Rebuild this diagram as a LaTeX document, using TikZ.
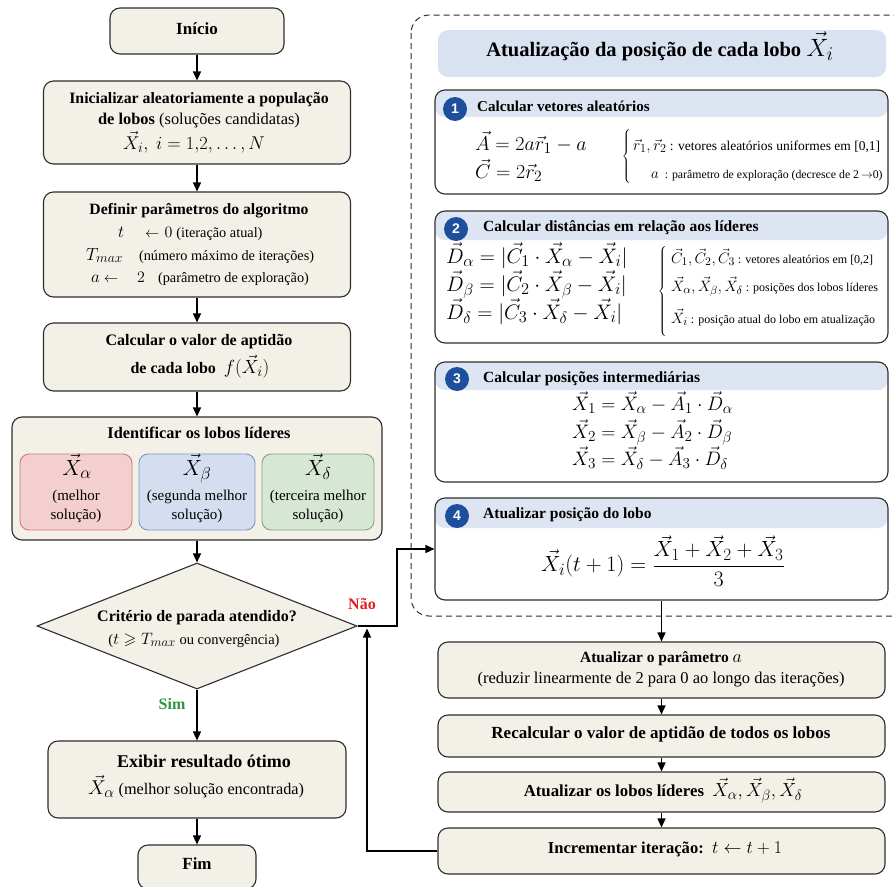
\RequirePackage{fix-cm}
\documentclass[tikz,border=0pt]{standalone}
\usepackage{amsmath,amssymb}
\usepackage{fontspec}
\setmainfont{Liberation Serif}
\newfontfamily\numfont{Liberation Sans}
\usetikzlibrary{shapes.geometric,arrows.meta}
\newcommand{\setfs}[2]{\fontsize{#1}{#2}\selectfont}
% slightly larger sub/superscripts in the formulas
\renewcommand{\defaultscriptratio}{.78}
\renewcommand{\defaultscriptscriptratio}{.6}

\definecolor{cream}{HTML}{F3F0E8}
\definecolor{edge}{HTML}{2E2E2E}
\definecolor{redfill}{HTML}{F4CFCF}
\definecolor{redline}{HTML}{C97C7C}
\definecolor{bluefill}{HTML}{D4DEF0}
\definecolor{blueline}{HTML}{7E98C6}
\definecolor{greenfill}{HTML}{D6E7D3}
\definecolor{greenline}{HTML}{7FA97F}
\definecolor{headbg}{HTML}{DDE5F2}
\definecolor{titlebg}{HTML}{D9E2F0}
\definecolor{numblue}{HTML}{1D4F9C}
\definecolor{nored}{HTML}{E0201E}
\definecolor{yesgreen}{HTML}{2E9440}

\begin{document}
\begin{tikzpicture}[x=1pt,y=-1pt,
  box/.style={draw=edge, fill=cream, rounded corners=10pt, line width=1.1pt, inner sep=0pt},
  sbox/.style={draw=edge, fill=white, rounded corners=10pt, line width=1.1pt, inner sep=0pt,
    minimum width=453pt,
    path picture={\fill[headbg] (path picture bounding box.north west)
      rectangle ([yshift=-#1]path picture bounding box.north east);}},
  sbox/.default=28pt,
  leaf/.style={rounded corners=9pt, line width=0.9pt, inner sep=0pt,
    minimum width=112pt, minimum height=76pt},
  lbl/.style={inner sep=0pt, text height=0.75em, text depth=0.1em},
  num/.style={circle, fill=numblue, text=white, inner sep=0pt, minimum size=24pt,
    font={\numfont\bfseries\setfs{14}{16}}},
  arr/.style={draw=black, line width=1.3pt, -{Triangle[length=9pt,width=8pt]}},
  frame/.style={draw=edge, line width=1pt, dash pattern=on 6pt off 4pt, rounded corners=18pt},
]
\fill[white] (0,0) rectangle (894,886);
\useasboundingbox (0,0) rectangle (894,886);

% ---------------- main flow (left column) ----------------
\node[box, minimum width=174pt, minimum height=46pt] (start) at (197,31) {};
\node[lbl, font=\bfseries\setfs{17}{20}] (startT) at (197,31) {Início};

\node[box, minimum width=307pt, minimum height=83pt] (init) at (197,122.5) {};
\node[lbl, font=\bfseries\setfs{15.8}{18}] (initA) at (199,100) {Inicializar aleatoriamente a população};
\node[lbl, font=\setfs{16.4}{19}] (initB) at (199,121) {\textbf{de lobos} (soluções candidatas)};
\node[lbl, font=\setfs{18.5}{21}] (initC) at (194,146) {$\vec{X}_{i},\ i = 1{,}2,\ldots,N$};

\node[box, minimum width=307pt, minimum height=105pt] (param) at (197,244.5) {};
\node[lbl, font=\bfseries\setfs{15.7}{18}] (paramT) at (199,211) {Definir parâmetros do algoritmo};
\node[lbl, font=\setfs{14.3}{17}, anchor=west] (paramA) at (118,234)
  {{\setfs{17}{20}$t$}\hspace{21pt}$\leftarrow$\hspace{5pt}{\setfs{16}{19}$0$}\hspace{4pt}(iteração atual)};
\node[lbl, font=\setfs{14.3}{17}, anchor=west] (paramB) at (86,257)
  {{\setfs{17.5}{20}$T_{max}$}\hspace{16pt}(número máximo de iterações)};
\node[lbl, font=\setfs{14.3}{17}, anchor=west] (paramC) at (91,279)
  {{\setfs{17}{20}$a$}\hspace{4pt}$\leftarrow$\hspace{19pt}{\setfs{16}{19}$2$}\hspace{13pt}(parâmetro de exploração)};

\node[box, minimum width=307pt, minimum height=68pt] (fit) at (197,357) {};
\node[lbl, font=\bfseries\setfs{16}{19}] (fitA) at (199,342) {Calcular o valor de aptidão};
\node[lbl, font=\bfseries\setfs{16}{19}] (fitB) at (200,370) {de cada lobo\ \ {\setfs{19}{22}$f(\vec{X}_i)$}};

\node[box, minimum width=370pt, minimum height=123pt] (lead) at (197,478.5) {};
\node[lbl, font=\bfseries\setfs{16.3}{19}] (leadT) at (199,435) {Identificar os lobos líderes};
\node[leaf, draw=redline, fill=redfill] (alpha) at (76,492) {};
\node[leaf, draw=blueline, fill=bluefill, minimum width=116pt] (beta) at (197,492) {};
\node[leaf, draw=greenline, fill=greenfill] (delta) at (318,492) {};
\node[lbl, font=\setfs{22}{25}] (alphaM) at (77,472) {$\vec{X}_{\alpha}$};
\node[lbl, font=\setfs{15}{18}] (alphaA) at (76,497) {(melhor};
\node[lbl, font=\setfs{15}{18}] (alphaB) at (76,516) {solução)};
\node[lbl, font=\setfs{22}{25}] (betaM) at (197,472) {$\vec{X}_{\beta}$};
\node[lbl, font=\setfs{15}{18}] (betaA) at (197,497) {(segunda melhor};
\node[lbl, font=\setfs{15}{18}] (betaB) at (197,516) {solução)};
\node[lbl, font=\setfs{22}{25}] (deltaM) at (318,472) {$\vec{X}_{\delta}$};
\node[lbl, font=\setfs{15}{18}] (deltaA) at (318,497) {(terceira melhor};
\node[lbl, font=\setfs{15}{18}] (deltaB) at (318,516) {solução)};

\node[diamond, draw=edge, fill=cream, line width=1.1pt, inner sep=0pt,
  minimum width=320pt, minimum height=126pt] (dec) at (197,626) {};
\node[lbl, font=\bfseries\setfs{16}{19}] (decA) at (197,618) {Critério de parada atendido?};
\node[lbl, font=\setfs{14.5}{17}] (decB) at (194,641) {({\setfs{16.5}{19}$t \geqslant T_{max}$} ou convergência)};

\node[lbl, font=\bfseries\setfs{16}{19}, text=yesgreen] (yes) at (172,706) {Sim};
\node[lbl, font=\bfseries\setfs{16}{19}, text=nored] (no) at (362,606) {Não};

\node[box, minimum width=298pt, minimum height=77pt] (res) at (197,779.5) {};
\node[lbl, font=\bfseries\setfs{18}{21}] (resA) at (204,764) {Exibir resultado ótimo};
\node[lbl, font=\setfs{16.2}{19}] (resB) at (196,791) {{\setfs{20}{23}$\vec{X}_{\alpha}$} (melhor solução encontrada)};

\node[box, minimum width=118pt, minimum height=44pt] (fin) at (197,867) {};
\node[lbl, font=\bfseries\setfs{17}{20}] (finT) at (197,866) {Fim};

% ---------------- position update (right column) ----------------
\draw[frame] (411,15) rectangle (915,616);

\node[fill=titlebg, rounded corners=10pt, minimum width=448pt, minimum height=47pt, inner sep=0pt] (title) at (662,53.5) {};
\node[lbl, font=\bfseries\setfs{20.5}{24}] (titleT) at (660,53) {Atualização da posição de cada lobo {\setfs{25}{28}$\vec{X}_i$}};

% step 1
\node[sbox=27pt, minimum height=104pt] (s1) at (661.5,142) {};
\node[num] (n1) at (455,109) {1};
\node[lbl, font=\bfseries\setfs{15.1}{18}, anchor=west] (s1T) at (477,108) {Calcular vetores aleatórios};
\node[lbl, font=\setfs{20}{23}, anchor=west] (s1A) at (475,147) {$\vec{A} = 2a\vec{r}_1 - a$};
\node[lbl, font=\setfs{20}{23}, anchor=west] (s1C) at (475,175) {$\vec{C} = 2\vec{r}_2$};
\node[inner sep=0pt] (br1) at (627,158) {$\left\{\rule[-27pt]{0pt}{54pt}\right.$};
\node[lbl, font=\setfs{13.5}{16}, anchor=west] (s1n1) at (633,147) {{\setfs{15.5}{18}$\vec{r}_1, \vec{r}_2$} : vetores aleatórios uniformes em [0,1]};
\node[lbl, font=\setfs{11.8}{14}, anchor=west] (s1n2) at (651,175) {{\setfs{15}{18}$a$}\ \ : parâmetro de exploração (decresce de 2\,$\rightarrow$0)};

% step 2
\node[sbox=29pt, minimum height=132pt] (s2) at (661.5,277) {};
\node[num] (n2) at (456,229) {2};
\node[lbl, font=\bfseries\setfs{15.5}{18}, anchor=west] (s2T) at (483,228) {Calcular distâncias em relação aos líderes};
\node[lbl, font=\setfs{21}{24}, anchor=west] (s2A) at (446,260) {$\vec{D}_{\alpha} = |\vec{C}_1\cdot\vec{X}_{\alpha} - \vec{X}_i|$};
\node[lbl, font=\setfs{21}{24}, anchor=west] (s2B) at (446,288) {$\vec{D}_{\beta} = |\vec{C}_2\cdot\vec{X}_{\beta} - \vec{X}_i|$};
\node[lbl, font=\setfs{21}{24}, anchor=west] (s2C) at (446,316) {$\vec{D}_{\delta} = |\vec{C}_3\cdot\vec{X}_{\delta} - \vec{X}_i|$};
\node[inner sep=0pt] (br2) at (663,292) {$\left\{\rule[-44pt]{0pt}{88pt}\right.$};
\node[lbl, font=\setfs{12}{14}, anchor=west] (s2n1) at (671,260) {{\setfs{15}{18}$\vec{C}_1, \vec{C}_2, \vec{C}_3$} : vetores aleatórios em [0,2]};
\node[lbl, font=\setfs{12}{14}, anchor=west] (s2n2) at (671,288) {{\setfs{15}{18}$\vec{X}_{\alpha}, \vec{X}_{\beta}, \vec{X}_{\delta}$} : posições dos lobos líderes};
\node[lbl, font=\setfs{12}{14}, anchor=west] (s2n3) at (671,320) {{\setfs{15}{18}$\vec{X}_i$}\ : posição atual do lobo em atualização};

% step 3
\node[sbox=28pt, minimum height=120pt] (s3) at (661.5,422) {};
\node[num] (n3) at (457,379) {3};
\node[lbl, font=\bfseries\setfs{15.5}{18}, anchor=west] (s3T) at (483,379) {Calcular posições intermediárias};
\node[lbl, font=\setfs{19.5}{23}, anchor=west] (s3A) at (572,407) {$\vec{X}_1 = \vec{X}_{\alpha} - \vec{A}_1\cdot\vec{D}_{\alpha}$};
\node[lbl, font=\setfs{19.5}{23}, anchor=west] (s3B) at (572,435) {$\vec{X}_2 = \vec{X}_{\beta} - \vec{A}_2\cdot\vec{D}_{\beta}$};
\node[lbl, font=\setfs{19.5}{23}, anchor=west] (s3C) at (572,462) {$\vec{X}_3 = \vec{X}_{\delta} - \vec{A}_3\cdot\vec{D}_{\delta}$};

% step 4
\node[sbox=30pt, minimum height=102pt] (s4) at (661.5,549) {};
\node[num] (n4) at (457,516) {4};
\node[lbl, font=\bfseries\setfs{15.5}{18}, anchor=west] (s4T) at (483,515) {Atualizar posição do lobo};
\node[inner sep=0pt, font=\setfs{22}{26}] (s4E) at (663,561) {$\vec{X}_i(t+1) = \dfrac{\vec{X}_1 + \vec{X}_2 + \vec{X}_3}{3}$};

% ---------------- remaining loop steps ----------------
\node[box, minimum width=447pt, minimum height=56pt] (upd) at (661.5,670) {};
\node[lbl, font=\bfseries\setfs{15.5}{18}] (updA) at (661,659) {Atualizar o parâmetro {\setfs{18}{21}$a$}};
\node[lbl, font=\setfs{16.5}{19}] (updB) at (661,680) {(reduzir linearmente de 2 para 0 ao longo das iterações)};

\node[box, minimum width=447pt, minimum height=42pt] (rec) at (661.5,736) {};
\node[lbl, font=\bfseries\setfs{17}{20}] (recT) at (661,735) {Recalcular o valor de aptidão de todos os lobos};

\node[box, minimum width=447pt, minimum height=40pt] (lup) at (661.5,792) {};
\node[lbl, font=\bfseries\setfs{16.8}{20}] (lupT) at (663,793) {Atualizar os lobos líderes\ \ {\setfs{19}{22}$\vec{X}_{\alpha}, \vec{X}_{\beta}, \vec{X}_{\delta}$}};

\node[box, minimum width=447pt, minimum height=46pt] (inc) at (661.5,851) {};
\node[lbl, font=\bfseries\setfs{16.6}{20}] (incT) at (665,850) {Incrementar iteração:\ \ {\setfs{18}{21}$t \leftarrow t+1$}};

% ---------------- connectors ----------------
\coordinate (nb) at (397,0);
\coordinate (back) at (367,628.5);

\draw[arr] (start) -- (init);
\draw[arr] (init) -- (param);
\draw[arr] (param) -- (fit);
\draw[arr] (fit) -- (lead);
\draw[arr] (lead) -- (dec);
\draw[arr] (dec) -- (res);
\draw[arr] (res) -- (fin);
\draw[arr] (dec.east) -- (dec.east -| nb) |- (s4.west);
\draw[arr] (s4) -- (upd);
\draw[arr] (upd) -- (rec);
\draw[arr] (rec) -- (lup);
\draw[arr] (lup) -- (inc);
\draw[arr] (inc.west) -| (back);
\end{tikzpicture}
\end{document}
